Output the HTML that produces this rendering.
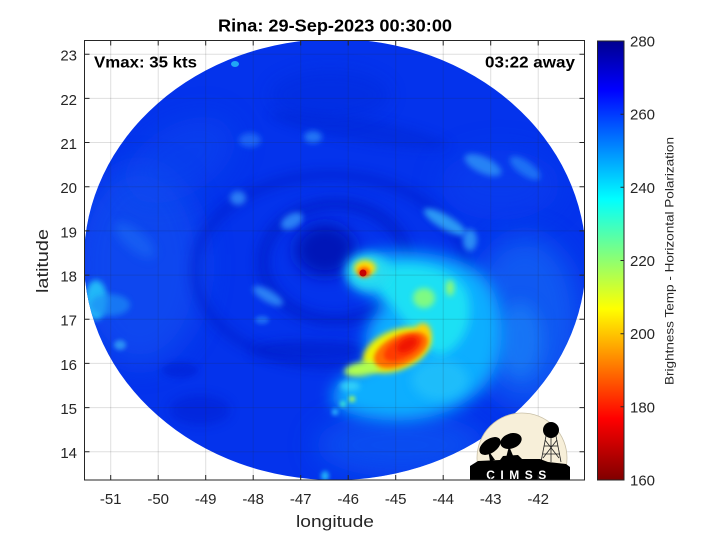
<!DOCTYPE html>
<html><head><meta charset="utf-8"><style>
html,body{margin:0;padding:0;background:#fff;}
svg{display:block;}
text{font-family:"Liberation Sans",Arial,sans-serif;}
</style></head><body>
<svg width="720" height="540" viewBox="0 0 720 540" xmlns="http://www.w3.org/2000/svg">
<defs>
<clipPath id="ax"><rect x="84.5" y="40.5" width="500" height="439.5"/></clipPath>
<clipPath id="disc"><ellipse cx="335" cy="259.5" rx="251" ry="220.5"/></clipPath>
<clipPath id="logo"><rect x="470" y="405" width="102" height="75"/></clipPath>
<filter id="b2" x="-50%" y="-50%" width="200%" height="200%"><feGaussianBlur stdDeviation="2"/></filter>
<filter id="b3" x="-50%" y="-50%" width="200%" height="200%"><feGaussianBlur stdDeviation="3"/></filter>
<filter id="b5" x="-50%" y="-50%" width="200%" height="200%"><feGaussianBlur stdDeviation="5"/></filter>
<filter id="b8" x="-50%" y="-50%" width="200%" height="200%"><feGaussianBlur stdDeviation="8"/></filter>
<filter id="b14" x="-50%" y="-50%" width="200%" height="200%"><feGaussianBlur stdDeviation="14"/></filter>
<linearGradient id="jet" x1="0" y1="0" x2="0" y2="1">
<stop offset="0" stop-color="#00008f"/>
<stop offset="0.11" stop-color="#0000ff"/>
<stop offset="0.36" stop-color="#00ffff"/>
<stop offset="0.61" stop-color="#ffff00"/>
<stop offset="0.86" stop-color="#ff0000"/>
<stop offset="1" stop-color="#800000"/>
</linearGradient>
</defs>

<text x="335" y="31.5" text-anchor="middle" font-size="17.5" font-weight="bold" fill="#000" textLength="234" lengthAdjust="spacingAndGlyphs">Rina: 29-Sep-2023 00:30:00</text>

<g clip-path="url(#ax)">
<g clip-path="url(#disc)">
<rect x="80" y="35" width="510" height="450" fill="#0433ec"/>
<!-- broad lighter areas -->
<ellipse cx="140" cy="265" rx="65" ry="100" fill="#1254f2" opacity="0.6" filter="url(#b14)"/>
<ellipse cx="180" cy="160" rx="60" ry="35" fill="#0c48f0" opacity="0.5" filter="url(#b14)" transform="rotate(-30 180 160)"/>
<ellipse cx="525" cy="320" rx="55" ry="85" fill="#166af5" opacity="0.7" filter="url(#b14)"/>
<ellipse cx="500" cy="185" rx="60" ry="35" fill="#0a42f0" opacity="0.5" filter="url(#b14)"/>
<ellipse cx="400" cy="445" rx="85" ry="32" fill="#0e58f3" opacity="0.7" filter="url(#b14)"/>
<!-- dark areas -->
<ellipse cx="325" cy="250" rx="30" ry="26" fill="#0016b8" filter="url(#b8)"/>
<ellipse cx="335" cy="262" rx="72" ry="58" fill="none" stroke="#001ec8" stroke-width="14" opacity="0.6" filter="url(#b5)"/>
<ellipse cx="330" cy="270" rx="135" ry="95" fill="none" stroke="#001ec8" stroke-width="12" opacity="0.45" filter="url(#b5)"/>
<ellipse cx="310" cy="350" rx="60" ry="10" fill="#001ec8" opacity="0.6" filter="url(#b5)"/>
<ellipse cx="360" cy="130" rx="90" ry="12" fill="#0026d4" opacity="0.5" filter="url(#b5)" transform="rotate(10 360 130)"/>
<ellipse cx="330" cy="95" rx="60" ry="25" fill="#042cdc" opacity="0.5" filter="url(#b8)"/>
<ellipse cx="200" cy="410" rx="30" ry="15" fill="#001ed0" opacity="0.5" filter="url(#b5)"/>
<ellipse cx="180" cy="370" rx="18" ry="8" fill="#001ed0" opacity="0.5" filter="url(#b3)"/>
<!-- light patches -->
<ellipse cx="96" cy="300" rx="11" ry="20" fill="#20b8f8" filter="url(#b3)"/>
<ellipse cx="110" cy="305" rx="20" ry="11" fill="#1a8cf5" opacity="0.7" filter="url(#b3)"/>
<ellipse cx="120" cy="345" rx="6" ry="5" fill="#2a90f5" filter="url(#b2)"/>
<ellipse cx="135" cy="240" rx="25" ry="10" fill="#1a6cf5" opacity="0.6" filter="url(#b5)" transform="rotate(40 135 240)"/>
<ellipse cx="238" cy="198" rx="8" ry="7" fill="#2a7cf5" filter="url(#b3)"/>
<ellipse cx="292" cy="221" rx="12" ry="7" fill="#2a80f5" filter="url(#b3)" transform="rotate(-30 292 221)"/>
<ellipse cx="268" cy="296" rx="17" ry="6" fill="#2a80f5" filter="url(#b3)" transform="rotate(30 268 296)"/>
<ellipse cx="262" cy="320" rx="7" ry="4" fill="#1e6cf5" filter="url(#b2)"/>
<ellipse cx="313" cy="137" rx="9" ry="6" fill="#2274f5" filter="url(#b3)"/>
<ellipse cx="250" cy="140" rx="11" ry="7" fill="#1a64f5" filter="url(#b3)"/>
<ellipse cx="235" cy="64" rx="4" ry="3" fill="#20a8f5"/>
<ellipse cx="483" cy="165" rx="20" ry="8" fill="#2882f5" filter="url(#b3)" transform="rotate(25 483 165)"/>
<ellipse cx="525" cy="168" rx="18" ry="7" fill="#1a70f5" filter="url(#b3)" transform="rotate(35 525 168)"/>
<ellipse cx="445" cy="222" rx="24" ry="7" fill="#2c98f5" filter="url(#b3)" transform="rotate(30 445 222)"/>
<ellipse cx="470" cy="240" rx="7" ry="11" fill="#2a8cf5" filter="url(#b3)"/>
<ellipse cx="520" cy="340" rx="22" ry="38" fill="#1e88f8" opacity="0.6" filter="url(#b8)"/>
<!-- main rainband -->
<path d="M352,262 C370,248 425,248 462,262 C498,276 508,320 498,360 C488,396 452,416 410,420 C378,422 343,416 333,402 C328,386 350,372 372,365 C360,345 365,320 385,305 C375,296 360,292 352,282 Z" fill="#0eaeff" filter="url(#b8)"/>
<path d="M378,268 C410,260 452,266 466,290 C476,316 466,346 440,356 C420,345 404,320 390,302 C380,292 370,280 378,268 Z" fill="#1ee0f4" filter="url(#b5)"/>
<ellipse cx="424" cy="298" rx="11" ry="10" fill="#90ff70" opacity="0.85" filter="url(#b3)"/>
<ellipse cx="450" cy="288" rx="4" ry="8" fill="#a8ff58" opacity="0.85" filter="url(#b3)"/>
<ellipse cx="440" cy="380" rx="28" ry="20" fill="#2cc8f8" opacity="0.6" filter="url(#b5)"/>
<!-- big convective blob -->
<ellipse cx="397" cy="350" rx="36" ry="20" fill="#f0f000" filter="url(#b3)" transform="rotate(-22 397 350)"/>
<ellipse cx="362" cy="369" rx="18" ry="7" fill="#b0ff50" filter="url(#b3)" transform="rotate(-10 362 369)"/>
<ellipse cx="423" cy="333" rx="8" ry="10" fill="#ffd000" filter="url(#b3)"/>
<ellipse cx="401" cy="350" rx="29" ry="15" fill="#ff7000" filter="url(#b2)" transform="rotate(-25 401 350)"/>
<ellipse cx="403" cy="348" rx="21" ry="10" fill="#ff3a00" filter="url(#b2)" transform="rotate(-28 403 348)"/>
<ellipse cx="407" cy="345" rx="11" ry="6" fill="#f01800" filter="url(#b2)" transform="rotate(-30 407 345)"/>
<!-- center hot spot -->
<ellipse cx="368" cy="272" rx="22" ry="18" fill="#26dcf0" filter="url(#b5)"/>
<ellipse cx="365" cy="268" rx="11" ry="8" fill="#ffe000" filter="url(#b3)"/>
<ellipse cx="364" cy="272" rx="6" ry="5" fill="#ff5000" filter="url(#b2)"/>
<circle cx="363" cy="273" r="3.5" fill="#c80000"/>
<!-- spots below -->
<circle cx="352" cy="399" r="3" fill="#b0ff50" filter="url(#b2)"/>
<circle cx="343" cy="404" r="3" fill="#40f0d0" filter="url(#b2)"/>
<circle cx="335" cy="412" r="3" fill="#30c0ff" filter="url(#b2)"/>
<ellipse cx="350" cy="386" rx="10" ry="5" fill="#30d0f8" filter="url(#b3)"/>
<ellipse cx="325" cy="476" rx="4" ry="5" fill="#20b0f8" filter="url(#b2)"/>
</g>
<g stroke="#262626" stroke-opacity="0.15" stroke-width="1">
<line x1="110.7" y1="40" x2="110.7" y2="480"/>
<line x1="158.2" y1="40" x2="158.2" y2="480"/>
<line x1="205.7" y1="40" x2="205.7" y2="480"/>
<line x1="253.2" y1="40" x2="253.2" y2="480"/>
<line x1="300.7" y1="40" x2="300.7" y2="480"/>
<line x1="348.2" y1="40" x2="348.2" y2="480"/>
<line x1="395.7" y1="40" x2="395.7" y2="480"/>
<line x1="443.2" y1="40" x2="443.2" y2="480"/>
<line x1="490.7" y1="40" x2="490.7" y2="480"/>
<line x1="538.2" y1="40" x2="538.2" y2="480"/>
<line x1="84" y1="54.2" x2="585" y2="54.2"/>
<line x1="84" y1="98.4" x2="585" y2="98.4"/>
<line x1="84" y1="142.5" x2="585" y2="142.5"/>
<line x1="84" y1="186.7" x2="585" y2="186.7"/>
<line x1="84" y1="230.9" x2="585" y2="230.9"/>
<line x1="84" y1="275.1" x2="585" y2="275.1"/>
<line x1="84" y1="319.2" x2="585" y2="319.2"/>
<line x1="84" y1="363.4" x2="585" y2="363.4"/>
<line x1="84" y1="407.6" x2="585" y2="407.6"/>
<line x1="84" y1="451.7" x2="585" y2="451.7"/>
</g>
</g>

<g clip-path="url(#logo)">
<circle cx="522" cy="458" r="45" fill="#f7efd9" stroke="#c9c0a8" stroke-width="0.8"/>
<g stroke="#222" stroke-width="0.8" fill="none">
<line x1="546" y1="436" x2="541" y2="462"/>
<line x1="556" y1="436" x2="561" y2="462"/>
<line x1="551" y1="436" x2="551" y2="462"/>
<line x1="544" y1="446" x2="558" y2="446"/>
<line x1="543" y1="454" x2="560" y2="454"/>
<line x1="545" y1="440" x2="559" y2="458"/>
<line x1="557" y1="440" x2="543" y2="458"/>
</g>
<circle cx="551" cy="430" r="8" fill="#000"/>
<ellipse cx="490" cy="446" rx="12" ry="7" fill="#000" transform="rotate(-35 490 446)"/>
<ellipse cx="511" cy="441" rx="11" ry="7.5" fill="#000" transform="rotate(-20 511 441)"/>
<polygon points="488,450 495,460 490,461" fill="#000"/>
<polygon points="509,446 514,458 506,458" fill="#000"/>
<polygon points="470,466 478,461 500,460 503,456 518,455 522,459 540,459 548,462 566,464 570,467 570,480 470,480" fill="#000"/>
<text x="519" y="479" text-anchor="middle" font-size="12" font-weight="bold" fill="#fff" letter-spacing="5.5">CIMSS</text>
</g>

<rect x="84.5" y="40.5" width="500" height="439.5" fill="none" stroke="#262626" stroke-width="1"/>
<g stroke="#262626" stroke-width="1">
<path d="M110.7,480v-5M158.2,480v-5M205.7,480v-5M253.2,480v-5M300.7,480v-5M348.2,480v-5M395.7,480v-5M443.2,480v-5M490.7,480v-5M538.2,480v-5"/>
<path d="M110.7,40.5v5M158.2,40.5v5M205.7,40.5v5M253.2,40.5v5M300.7,40.5v5M348.2,40.5v5M395.7,40.5v5M443.2,40.5v5M490.7,40.5v5M538.2,40.5v5"/>
<path d="M84.5,54.2h5M84.5,98.4h5M84.5,142.5h5M84.5,186.7h5M84.5,230.9h5M84.5,275.1h5M84.5,319.2h5M84.5,363.4h5M84.5,407.6h5M84.5,451.7h5"/>
<path d="M584.5,54.2h-5M584.5,98.4h-5M584.5,142.5h-5M584.5,186.7h-5M584.5,230.9h-5M584.5,275.1h-5M584.5,319.2h-5M584.5,363.4h-5M584.5,407.6h-5M584.5,451.7h-5"/>
</g>

<text x="94" y="67.7" font-size="15.5" font-weight="bold" fill="#000" textLength="103" lengthAdjust="spacingAndGlyphs">Vmax: 35 kts</text>
<text x="485" y="67.7" font-size="15.5" font-weight="bold" fill="#000" textLength="90" lengthAdjust="spacingAndGlyphs">03:22 away</text>

<g font-size="15" fill="#262626" text-anchor="middle">
<text x="110.7" y="504">-51</text>
<text x="158.2" y="504">-50</text>
<text x="205.7" y="504">-49</text>
<text x="253.2" y="504">-48</text>
<text x="300.7" y="504">-47</text>
<text x="348.2" y="504">-46</text>
<text x="395.7" y="504">-45</text>
<text x="443.2" y="504">-44</text>
<text x="490.7" y="504">-43</text>
<text x="538.2" y="504">-42</text>
</g>
<g font-size="15" fill="#262626" text-anchor="end">
<text x="77" y="60.7">23</text>
<text x="77" y="104.9">22</text>
<text x="77" y="149">21</text>
<text x="77" y="193.2">20</text>
<text x="77" y="237.4">19</text>
<text x="77" y="281.6">18</text>
<text x="77" y="325.7">17</text>
<text x="77" y="369.9">16</text>
<text x="77" y="414.1">15</text>
<text x="77" y="458.2">14</text>
</g>
<text x="335" y="527" text-anchor="middle" font-size="17" fill="#262626" textLength="78" lengthAdjust="spacingAndGlyphs">longitude</text>
<text transform="translate(48 261) rotate(-90)" text-anchor="middle" font-size="17" fill="#262626" textLength="64" lengthAdjust="spacingAndGlyphs">latitude</text>

<rect x="597.5" y="41" width="26.5" height="439" fill="url(#jet)"/>
<rect x="597.5" y="41" width="26.5" height="439" fill="none" stroke="#262626" stroke-width="1"/>
<g stroke="#262626" stroke-width="1">
<path d="M624,114.2h-3.5M624,187.3h-3.5M624,260.5h-3.5M624,333.7h-3.5M624,406.8h-3.5"/>
</g>
<g font-size="15" fill="#262626">
<text x="630" y="46.5">280</text>
<text x="630" y="119.7">260</text>
<text x="630" y="192.8">240</text>
<text x="630" y="266">220</text>
<text x="630" y="339.2">200</text>
<text x="630" y="412.3">180</text>
<text x="630" y="485.5">160</text>
</g>
<text transform="translate(673.5 261) rotate(-90)" text-anchor="middle" font-size="12" fill="#262626" textLength="248" lengthAdjust="spacingAndGlyphs">Brightness Temp - Horizontal Polarization</text>
</svg>
</body></html>
